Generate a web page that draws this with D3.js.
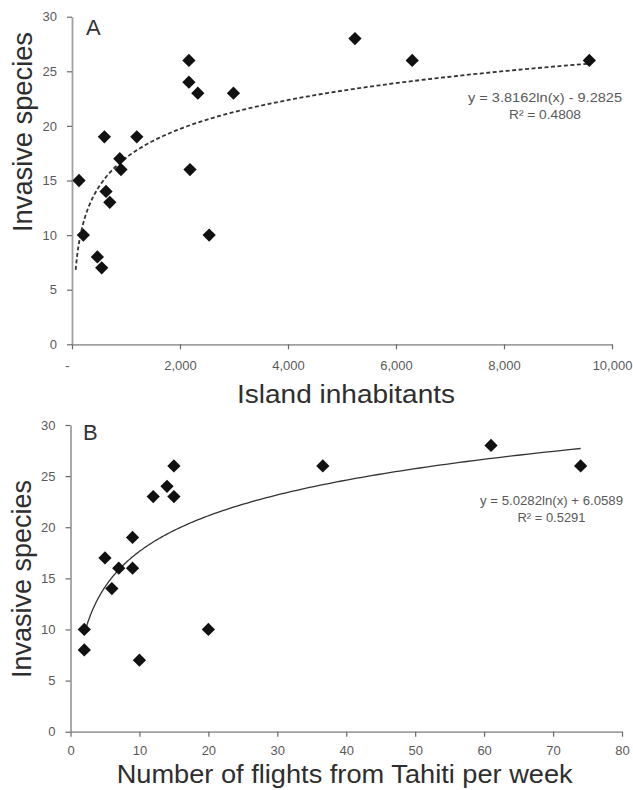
<!DOCTYPE html>
<html><head><meta charset="utf-8">
<script src="https://cdn.jsdelivr.net/npm/d3@7"></script>
<style>body{margin:0;background:#fff}svg{display:block}</style>
</head><body>
<svg id="c" width="633" height="790"></svg>
<script>
// Panel A data
const inhabitants = [130, 600, 885, 907, 1200, 2165, 2165, 2330, 2990, 2185, 5240, 6300, 9580, 630, 700, 210, 470, 550, 2540];
const speciesA    = [15, 19, 17, 16, 19, 26, 24, 23, 23, 16, 28, 26, 26, 14, 13, 10, 8, 7, 10];
// Panel B data
const flights  = [5, 6, 7, 9, 9, 12, 14, 15, 15, 36.6, 61, 74, 2, 2, 10, 20];
const speciesB = [17, 14, 16, 19, 16, 23, 24, 26, 23, 26, 28, 26, 10, 8, 7, 10];
// Trend lines (logarithmic fits shown on chart)
const trendA = {a: 3.8162, b: -9.2825, from: 68, to: 9580};
const trendB = {a: 5.0282, b: 6.0589, from: 2, to: 74};
const eqA = ["y = 3.8162ln(x)  - 9.2825", "R\u00B2 = 0.4808"];
const eqB = ["y = 5.0282ln(x) + 6.0589", "R\u00B2 = 0.5291"];
// Ticks
const yTicks = [0, 5, 10, 15, 20, 25, 30];
const xTicksA = [0, 2000, 4000, 6000, 8000, 10000];
const xTickLabelsA = ["-", "2,000", "4,000", "6,000", "8,000", "10,000"];
const xTicksB = [0, 10, 20, 30, 40, 50, 60, 70, 80];

const svg = d3.select("#c");
const tickFont = "Liberation Sans, Arial, sans-serif";

function panel(cfg) {
  const x = d3.scaleLinear().domain(cfg.xDomain).range(cfg.xRange);
  const y = d3.scaleLinear().domain([0, 30]).range(cfg.yRange);
  const g = svg.append("g");

  const ya = g.append("g").attr("transform", `translate(${cfg.xRange[0]},0)`)
    .call(d3.axisLeft(y).tickValues(yTicks).tickSize(5).tickSizeOuter(0).tickPadding(10));
  const xa = g.append("g").attr("transform", `translate(0,${cfg.yRange[0]})`)
    .call(d3.axisBottom(x).tickValues(cfg.xTicks).tickSize(5).tickSizeOuter(0).tickPadding(cfg.xPad)
      .tickFormat((d, i) => cfg.xLabels ? cfg.xLabels[i] : d));
  [ya, xa].forEach(a => {
    a.select(".domain").attr("stroke", "#a0a0a0").attr("stroke-width", 1.8);
    a.selectAll(".tick line").attr("stroke", "#6a6a6a").attr("stroke-width", 1.2);
    a.selectAll(".tick text").attr("fill", "#5a5a5a").style("font-family", tickFont).style("font-size", "13px");
  });
  if (cfg.xLabels) xa.selectAll(".tick text").filter((d) => d === 0).attr("dx", -5);

  // trend line
  const t = cfg.trend;
  const n = 200;
  const pts = d3.range(n + 1).map(i => {
    const xv = Math.exp(Math.log(t.from) + (Math.log(t.to) - Math.log(t.from)) * i / n);
    return [xv, t.a * Math.log(xv) + t.b];
  });
  g.append("path").datum(pts)
    .attr("d", d3.line().x(d => x(d[0])).y(d => y(d[1])))
    .attr("fill", "none").attr("stroke", "#333")
    .attr("stroke-width", cfg.dashed ? 1.8 : 1.3)
    .attr("stroke-dasharray", cfg.dashed ? "4,2.5" : null);

  // points
  const sym = d3.symbol().type(d3.symbolSquare).size(88);
  g.selectAll("path.pt").data(cfg.xs.map((v, i) => [v, cfg.ys[i]])).join("path")
    .attr("class", "pt").attr("d", sym)
    .attr("transform", d => `translate(${x(d[0])},${y(d[1])}) rotate(45)`)
    .attr("fill", "#111");

  // equation
  cfg.eq.forEach((s, i) => {
    g.append("text").attr("x", cfg.eqX).attr("y", cfg.eqY + i * 17)
      .attr("text-anchor", "middle").attr("fill", "#595959")
      .style("font-family", tickFont).style("font-size", "12px")
      .attr("textLength", cfg.eqLen[i]).attr("lengthAdjust", "spacingAndGlyphs")
      .text(s);
  });

  // panel letter
  g.append("text").attr("x", cfg.letterX).attr("y", cfg.letterY)
    .attr("fill", "#333").style("font-family", tickFont).style("font-size", "22px")
    .text(cfg.letter);

  // axis titles
  g.append("text").attr("x", cfg.xTitleX).attr("y", cfg.xTitleY).attr("text-anchor", "middle")
    .attr("fill", "#2e2e2e").style("font-family", tickFont).style("font-size", "26px")
    .attr("textLength", cfg.xTitleLen).attr("lengthAdjust", "spacingAndGlyphs")
    .text(cfg.xTitle);
  g.append("text").attr("transform", `translate(${cfg.yTitleX},${cfg.yTitleY}) rotate(-90)`)
    .attr("text-anchor", "middle")
    .attr("fill", "#2e2e2e").style("font-family", tickFont).style("font-size", "27px")
    .attr("textLength", cfg.yTitleLen).attr("lengthAdjust", "spacingAndGlyphs")
    .text("Invasive species");
}

panel({
  xDomain: [0, 10000], xRange: [72, 612], yRange: [344.3, 16.7],
  xTicks: xTicksA, xLabels: xTickLabelsA, xPad: 11.5,
  trend: trendA, dashed: true, xs: inhabitants, ys: speciesA,
  eq: eqA, eqX: 545, eqY: 102, eqLen: [154, 72],
  letter: "A", letterX: 86, letterY: 35,
  xTitle: "Island inhabitants", xTitleX: 346, xTitleY: 403, xTitleLen: 218,
  yTitleX: 32, yTitleY: 132, yTitleLen: 200
});
panel({
  xDomain: [0, 80], xRange: [70.5, 622], yRange: [731.7, 425],
  xTicks: xTicksB, xLabels: null, xPad: 9,
  trend: trendB, dashed: false, xs: flights, ys: speciesB,
  eq: eqB, eqX: 551.5, eqY: 505, eqLen: [143, 68],
  letter: "B", letterX: 83, letterY: 440,
  xTitle: "Number of flights from Tahiti per week", xTitleX: 344.7, xTitleY: 783, xTitleLen: 456,
  yTitleX: 31, yTitleY: 579, yTitleLen: 198
});
</script>
</body></html>
